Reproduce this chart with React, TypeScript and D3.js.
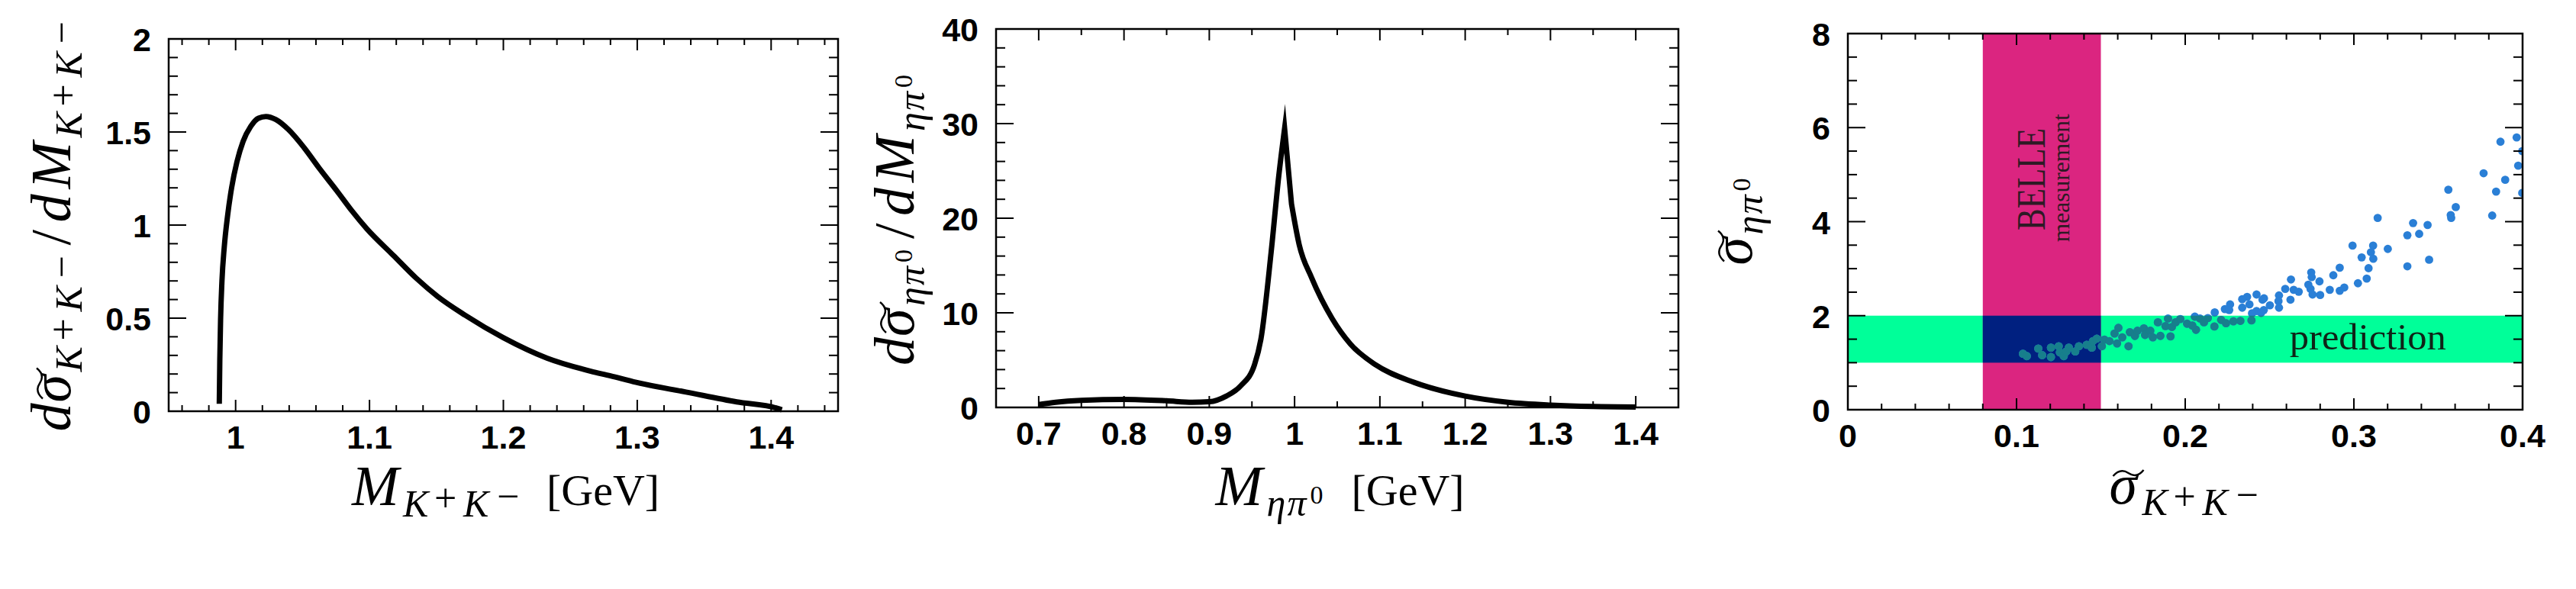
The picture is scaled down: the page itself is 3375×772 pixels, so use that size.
import React from 'react';
import * as d3 from 'd3';

const W = 3375;
const H = 772;

// left panel: K+K- invariant mass distribution
const kkMass = [0.9878, 0.9882, 0.9888, 0.9898, 0.9915, 0.994, 0.997, 1.001, 1.0056, 1.0113, 1.017, 1.0226, 1.03, 1.0396, 1.051, 1.0623, 1.0756, 1.087, 1.098, 1.118, 1.1347, 1.151, 1.1714, 1.2, 1.2327, 1.2653, 1.28, 1.2992, 1.3364, 1.3743, 1.4045, 1.408];
const kkRate = [0.04, 0.28, 0.5, 0.7, 0.88, 1.05, 1.2, 1.34, 1.45, 1.53, 1.574, 1.583, 1.567, 1.512, 1.417, 1.307, 1.184, 1.075, 0.98, 0.836, 0.716, 0.616, 0.516, 0.395, 0.285, 0.215, 0.19, 0.155, 0.103, 0.05, 0.016, 0.008];
const kkTicksX = [1, 1.1, 1.2, 1.3, 1.4];
const kkTicksY = [0, 0.5, 1, 1.5, 2];

// middle panel: eta pi0 invariant mass distribution (cusp at the KK threshold)
const epMass = [0.7, 0.72, 0.75, 0.8, 0.85, 0.88, 0.9, 0.92, 0.937, 0.953, 0.9605, 0.9725, 0.9815, 0.9883, 0.9964, 1.0054, 1.02, 1.044, 1.0655, 1.095, 1.14, 1.2, 1.25, 1.3, 1.35, 1.4];
const epRate = [0.3, 0.55, 0.75, 0.85, 0.7, 0.55, 0.6, 1.2, 2.3, 4.5, 7.2, 16.4, 24.5, 29.5, 21.5, 17.2, 13.7, 9.4, 6.7, 4.5, 2.65, 1.2, 0.55, 0.25, 0.1, 0.05];
const epCorners = [13, 14]; // peak and shoulder are sharp
const epTicksX = [0.7, 0.8, 0.9, 1, 1.1, 1.2, 1.3, 1.4];
const epTicksY = [0, 10, 20, 30, 40];

// right panel: scanned parameter points (sigma K+K-, sigma eta pi0)
const scan: [number, number][] = [
  [0.1038, 1.19], [0.1061, 1.14], [0.1129, 1.3], [0.1152, 1.16], [0.1204, 1.32], [0.1204, 1.12], [0.125, 1.35], [0.1257, 1.22],
  [0.128, 1.14], [0.131, 1.32], [0.1295, 1.24], [0.1348, 1.24], [0.137, 1.35], [0.1416, 1.38], [0.1446, 1.32], [0.1453, 1.46],
  [0.1476, 1.51], [0.1506, 1.35], [0.1521, 1.49], [0.1551, 1.46], [0.1581, 1.62], [0.1604, 1.74], [0.1596, 1.41], [0.1627, 1.54],
  [0.1664, 1.35], [0.1672, 1.65], [0.1702, 1.57], [0.1717, 1.68], [0.1755, 1.73], [0.1762, 1.59], [0.1793, 1.68], [0.1808, 1.54],
  [0.1838, 1.86], [0.1853, 1.57], [0.1883, 1.78], [0.1898, 1.94], [0.1913, 1.56], [0.1921, 1.76], [0.1943, 1.86], [0.2064, 1.7],
  [0.3965, 5.79], [0.3869, 5.7], [0.3998, 5.5], [0.3974, 5.19], [0.3769, 5.03], [0.3897, 4.89], [0.3843, 4.64], [0.3998, 4.61],
  [0.356, 4.68], [0.3604, 4.31], [0.3574, 4.14], [0.3577, 4.08], [0.382, 4.13], [0.3141, 4.08], [0.3351, 3.97], [0.3437, 3.93],
  [0.3317, 3.71], [0.3387, 3.74], [0.2992, 3.49], [0.3114, 3.49], [0.3201, 3.42], [0.3101, 3.35], [0.3046, 3.24], [0.3115, 3.21],
  [0.3446, 3.19], [0.3317, 3.05], [0.3087, 3.01], [0.2916, 3.02], [0.2878, 2.86], [0.3076, 2.79], [0.3024, 2.69], [0.2747, 2.92],
  [0.275, 2.82], [0.2796, 2.73], [0.273, 2.66], [0.2743, 2.57], [0.2755, 2.45], [0.28, 2.44], [0.2857, 2.55], [0.2916, 2.53],
  [0.2943, 2.6], [0.2627, 2.77], [0.2593, 2.57], [0.2643, 2.55], [0.2673, 2.51], [0.2624, 2.34], [0.2556, 2.43], [0.2553, 2.31],
  [0.2556, 2.17], [0.2502, 2.22], [0.2423, 2.45], [0.2467, 2.37], [0.2458, 2.34], [0.2367, 2.4], [0.2338, 2.35], [0.2381, 2.24],
  [0.2338, 2.17], [0.2266, 2.24], [0.2235, 2.14], [0.2261, 2.12], [0.2175, 2.07], [0.2423, 2.1], [0.2396, 2.05], [0.2466, 2.12],
  [0.245, 2.06], [0.1971, 1.93], [0.2057, 1.98], [0.2088, 1.94], [0.2134, 1.95], [0.2213, 1.91], [0.2286, 1.88], [0.2327, 1.89],
  [0.2393, 1.9], [0.2242, 1.84], [0.2173, 1.77], [0.2011, 1.83], [0.2042, 1.79], [0.2111, 1.86],
];
const belleBand = [0.08, 0.15];
const predictionBand = [1, 2];
const scanTicksX = [0, 0.1, 0.2, 0.3, 0.4];
const scanTicksY = [0, 2, 4, 6, 8];

const serif = "'Liberation Serif', 'Times New Roman', serif";
const sans = "'Liberation Sans', Arial, sans-serif";

// math labels are laid out by hand: each glyph gets an offset along the text line
type Glyph = { t: string; at: number; s: number; o?: number; it?: boolean; tilde?: boolean };

const subKK = (at: number): Glyph[] => [
  { t: 'K', at, s: 50, o: 15, it: true },
  { t: '+', at: at + 41, s: 52, o: 8 },
  { t: 'K', at: at + 79, s: 50, o: 15, it: true },
  { t: '\u2212', at: at + 123, s: 52, o: 6 },
];
const subEP = (at: number): Glyph[] => [
  { t: '\u03b7', at, s: 50, o: 14, it: true },
  { t: '\u03c0', at: at + 27, s: 50, o: 14, it: true },
  { t: '0', at: at + 57, s: 34, o: -2 },
];
const sigma = (at: number): Glyph[] => [
  { t: '\u03c3', at, s: 74, it: true },
  { t: '', at, s: 74, tilde: true },
];
const gev = (at: number): Glyph => ({ t: '[GeV]', at, s: 58 });

const kkXLabel: Glyph[] = [{ t: 'M', at: 0, s: 74, it: true }, ...subKK(67), gev(255)];
const kkYLabel: Glyph[] = [
  { t: 'd', at: 0, s: 74, it: true }, ...sigma(38), ...subKK(78),
  { t: '/', at: 244, s: 74 }, { t: 'd', at: 274, s: 74, it: true }, { t: 'M', at: 318, s: 74, it: true }, ...subKK(385),
];
const epXLabel: Glyph[] = [{ t: 'M', at: 0, s: 74, it: true }, ...subEP(67), gev(178)];
const epYLabel: Glyph[] = [
  { t: 'd', at: 0, s: 74, it: true }, ...sigma(38), ...subEP(78),
  { t: '/', at: 166, s: 74 }, { t: 'd', at: 196, s: 74, it: true }, { t: 'M', at: 240, s: 74, it: true }, ...subEP(307),
];
const scanXLabel: Glyph[] = [...sigma(0), ...subKK(43)];
const scanYLabel: Glyph[] = [...sigma(0), ...subEP(40)];

function MathLabel({ x, y, glyphs, length, vertical }: { x: number; y: number; glyphs: Glyph[]; length: number; vertical?: boolean }) {
  const start = -length / 2;
  return (
    <g transform={`translate(${x},${y})${vertical ? ' rotate(-90)' : ''}`} fontFamily={serif} fill="#000">
      {glyphs.map((g, i) =>
        g.tilde ? (
          <path key={i} transform={`translate(${start + g.at + 5},-40)`} d="M0,4 C7,-4 14,-4 20,0 S33,5 40,-4" fill="none" stroke="#000" strokeWidth={2.4} />
        ) : (
          <text key={i} x={start + g.at} y={g.o ?? 0} fontSize={g.s} fontStyle={g.it ? 'italic' : 'normal'}>
            {g.t}
          </text>
        ),
      )}
    </g>
  );
}

type Scale = d3.ScaleLinear<number, number>;

function Frame({ x, y, ticksX, ticksY, minorX, minorY }: { x: Scale; y: Scale; ticksX: number[]; ticksY: number[]; minorX: number; minorY: number }) {
  const [x0, x1] = x.range();
  const [y0, y1] = y.range();
  const steps = (s: Scale, step: number) => {
    const [a, b] = s.domain();
    return d3.range(Math.ceil(a / step - 1e-6), Math.floor(b / step + 1e-6) + 1).map(i => +(i * step).toFixed(4));
  };
  const isMajor = (ticks: number[], v: number) => ticks.some(t => Math.abs(t - v) < 1e-6);
  return (
    <g stroke="#000" strokeWidth={2}>
      {steps(x, minorX).map(v => {
        const px = x(v);
        const len = isMajor(ticksX, v) ? 15 : 8;
        return (
          <g key={'x' + v}>
            <line x1={px} x2={px} y1={y0} y2={y0 - len} />
            <line x1={px} x2={px} y1={y1} y2={y1 + len} />
          </g>
        );
      })}
      {steps(y, minorY).map(v => {
        const py = y(v);
        const len = isMajor(ticksY, v) ? 23 : 12;
        return (
          <g key={'y' + v}>
            <line x1={x0} x2={x0 + len} y1={py} y2={py} />
            <line x1={x1} x2={x1 - len} y1={py} y2={py} />
          </g>
        );
      })}
      <rect x={x0} y={y1} width={x1 - x0} height={y0 - y1} fill="none" strokeWidth={2.5} />
      <g stroke="none" fill="#000" fontFamily={sans} fontWeight="bold" fontSize={43}>
        {ticksX.map(v => (
          <text key={'lx' + v} x={x(v)} y={y0 + 49} textAnchor="middle">{String(v)}</text>
        ))}
        {ticksY.map(v => (
          <text key={'ly' + v} x={x0 - 23} y={y(v) + 16} textAnchor="end">{String(v)}</text>
        ))}
      </g>
    </g>
  );
}

function curvePath(xs: number[], ys: number[], x: Scale, y: Scale, corners: number[] = []) {
  const gen = d3.line<number>().x(i => x(xs[i])).y(i => y(ys[i])).curve(d3.curveMonotoneX);
  const cuts = [0, ...corners, xs.length - 1];
  let d = '';
  for (let k = 0; k < cuts.length - 1; k++) {
    const seg = gen(d3.range(cuts[k], cuts[k + 1] + 1)) ?? '';
    d += k === 0 ? seg : seg.replace(/^M[^A-Za-z]*/, '');
  }
  return d;
}

export default function App() {
  const x1 = d3.scaleLinear().domain([0.95, 1.45]).range([221, 1098]);
  const y1 = d3.scaleLinear().domain([0, 2]).range([539, 51]);
  const x2 = d3.scaleLinear().domain([0.65, 1.45]).range([1305, 2199]);
  const y2 = d3.scaleLinear().domain([0, 40]).range([534, 38]);
  const x3 = d3.scaleLinear().domain([0, 0.4]).range([2421, 3305]);
  const y3 = d3.scaleLinear().domain([0, 8]).range([537, 44]);

  const [bx0, bx1] = belleBand;
  const [py0, py1] = predictionBand;

  return (
    <div style={{ position: 'absolute', left: 0, top: 0, background: '#fff' }}>
      <svg width={W} height={H} viewBox={`0 0 ${W} ${H}`}>
        <defs>
          <clipPath id="scanFrame">
            <rect x={x3(0)} y={y3(8)} width={x3(0.4) - x3(0)} height={y3(0) - y3(8)} />
          </clipPath>
          <clipPath id="scanBand">
            <rect x={x3(0)} y={y3(py1)} width={x3(0.4) - x3(0)} height={y3(py0) - y3(py1)} />
          </clipPath>
        </defs>

        {/* left panel */}
        <path d={curvePath(kkMass, kkRate, x1, y1)} fill="none" stroke="#000" strokeWidth={7} />
        <Frame x={x1} y={y1} ticksX={kkTicksX} ticksY={kkTicksY} minorX={0.02} minorY={0.1} />
        <MathLabel x={657} y={662} glyphs={kkXLabel} length={392} />
        <MathLabel x={92} y={298} vertical glyphs={kkYLabel} length={535} />

        {/* middle panel */}
        <path d={curvePath(epMass, epRate, x2, y2, epCorners)} fill="none" stroke="#000" strokeWidth={7} strokeLinejoin="miter" strokeMiterlimit={14} />
        <Frame x={x2} y={y2} ticksX={epTicksX} ticksY={epTicksY} minorX={0.05} minorY={2} />
        <MathLabel x={1750} y={662} glyphs={epXLabel} length={315} />
        <MathLabel x={1197} y={288} vertical glyphs={epYLabel} length={382} />

        {/* right panel */}
        <rect x={x3(0)} y={y3(py1)} width={x3(0.4) - x3(0)} height={y3(py0) - y3(py1)} fill="#00ff99" />
        <rect x={x3(bx0)} y={y3(8)} width={x3(bx1) - x3(bx0)} height={y3(0) - y3(8)} fill="#db2580" />
        <rect x={x3(bx0)} y={y3(py1)} width={x3(bx1) - x3(bx0)} height={y3(py0) - y3(py1)} fill="#002080" />
        <text transform={`translate(${x3(0.1167)},${y3(4.9)}) rotate(-90)`} textAnchor="middle" fontFamily={serif} fontSize={52} textLength={134} lengthAdjust="spacingAndGlyphs" fill="#2e1a25">BELLE</text>
        <text transform={`translate(${x3(0.1312)},${y3(4.93)}) rotate(-90)`} textAnchor="middle" fontFamily={serif} fontSize={31} textLength={168} lengthAdjust="spacingAndGlyphs" fill="#2e1a25">measurement</text>
        <text x={x3(0.2619)} y={y3(1.284)} fontFamily={serif} fontSize={48} textLength={205} lengthAdjust="spacingAndGlyphs" fill="#0f2418">prediction</text>
        <g clipPath="url(#scanFrame)">
          {scan.map(([a, b], i) => (
            <circle key={i} cx={x3(a)} cy={y3(b)} r={5.4} fill="#2a7fd6" />
          ))}
        </g>
        <g clipPath="url(#scanBand)">
          {scan.map(([a, b], i) => (
            <circle key={i} cx={x3(a)} cy={y3(b)} r={5.4} fill="#177f8c" />
          ))}
        </g>
        <Frame x={x3} y={y3} ticksX={scanTicksX} ticksY={scanTicksY} minorX={0.02} minorY={0.5} />
        <MathLabel x={2861} y={660} glyphs={scanXLabel} length={195} />
        <MathLabel x={2295} y={290} vertical glyphs={scanYLabel} length={115} />
      </svg>
    </div>
  );
}
